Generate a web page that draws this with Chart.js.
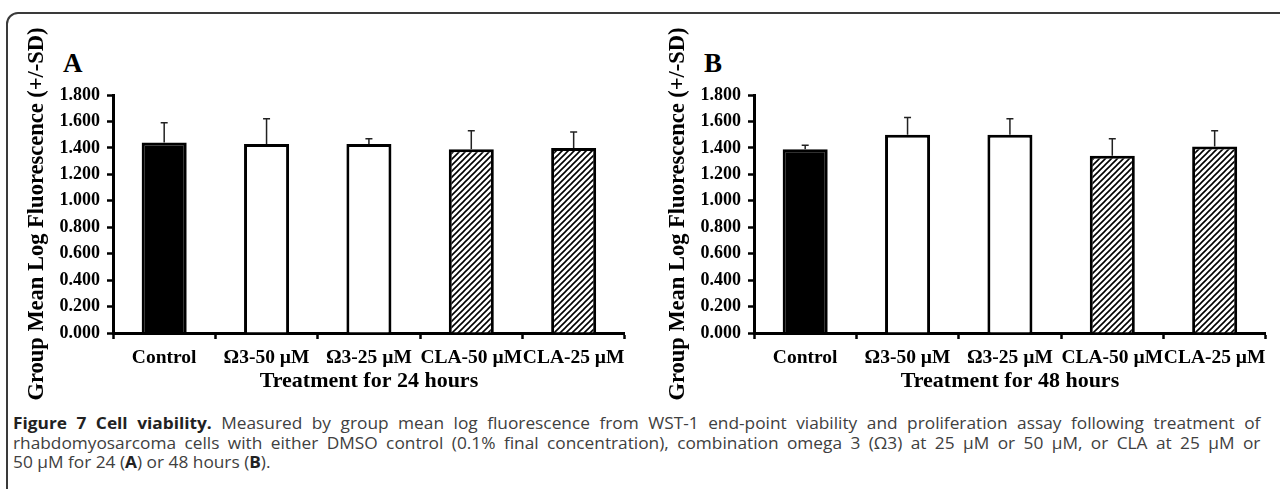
<!DOCTYPE html>
<html><head><meta charset="utf-8">
<script src="https://cdn.jsdelivr.net/npm/chart.js@4.4.1/dist/chart.umd.min.js"></script>
<style>
html,body{margin:0;padding:0;background:#fff;width:1280px;height:489px;overflow:hidden;}
body{position:relative;}
#frame{position:absolute;left:6px;top:12px;width:1320px;height:620px;border:2px solid #3a3a3a;border-radius:12px;box-sizing:border-box;}
.panel{position:absolute;top:15px;width:612px;height:385px;}
#pa{left:20px} #pb{left:661px}
.letter{position:absolute;font-family:"Liberation Serif",serif;font-weight:bold;font-size:27px;line-height:26px;top:50px;color:#000}
.cap{position:absolute;left:13px;width:1155px;font-family:"Open Sans",sans-serif;font-size:16px;color:#404040;line-height:20px;white-space:nowrap;transform:scaleX(1.08);transform-origin:0 0}
.j{text-align:justify;text-align-last:justify}
.cap b{color:#222}
</style></head>
<body>
<div id="frame"></div>
<div class="letter" style="left:63px">A</div>
<div class="letter" style="left:704px">B</div>
<div class="panel" id="pa"><canvas id="ca" width="612" height="385"></canvas></div>
<div class="panel" id="pb"><canvas id="cb" width="612" height="385"></canvas></div>
<div class="cap j" style="top:413px"><b>Figure 7 Cell viability.</b> Measured by group mean log fluorescence from WST-1 end-point viability and proliferation assay following treatment of</div>
<div class="cap j" style="top:432.5px">rhabdomyosarcoma cells with either DMSO control (0.1% final concentration), combination omega 3 (Ω3) at 25 µM or 50 µM, or CLA at 25 µM or</div>
<div class="cap" style="top:452px">50 µM for 24 (<b>A</b>) or 48 hours (<b>B</b>).</div>
<script>
const categories = ['Control', 'Ω3-50 µM', 'Ω3-25 µM', 'CLA-50 µM', 'CLA-25 µM'];
const yTickLabels = ['0.000','0.200','0.400','0.600','0.800','1.000','1.200','1.400','1.600','1.800'];
const meansA = [1.44, 1.43, 1.43, 1.39, 1.40];
const sdA    = [0.15, 0.19, 0.04, 0.14, 0.12];
const meansB = [1.39, 1.50, 1.50, 1.34, 1.41];
const sdB    = [0.03, 0.13, 0.12, 0.13, 0.12];
const yTitle = 'Group Mean Log Fluorescence (+/-SD)';
const xTitleA = 'Treatment for 24 hours';
const xTitleB = 'Treatment for 48 hours';

function hatchPattern(){
  const c = document.createElement('canvas'); c.width = 6; c.height = 6;
  const g = c.getContext('2d');
  g.fillStyle = '#fff'; g.fillRect(0,0,6,6);
  g.strokeStyle = '#000'; g.lineWidth = 1.6; g.beginPath();
  g.moveTo(-1,7); g.lineTo(7,-1);
  g.moveTo(-1,1); g.lineTo(1,-1);
  g.moveTo(5,7); g.lineTo(7,5);
  g.stroke();
  return document.createElement('canvas').getContext('2d').createPattern(c,'repeat');
}
const hatch = hatchPattern();
const fills = ['#000', '#fff', '#fff', hatch, hatch];

const errorBars = {
  id: 'errorBars',
  afterDatasetsDraw(chart){
    const ctx = chart.ctx, y = chart.scales.y;
    const ds = chart.data.datasets[0];
    const meta = chart.getDatasetMeta(0);
    ctx.save();
    ctx.strokeStyle = '#222'; ctx.lineWidth = 1.5;
    meta.data.forEach((bar, i) => {
      const y0 = y.getPixelForValue(ds.data[i]);
      const y1 = y.getPixelForValue(ds.data[i] + ds.sd[i]);
      ctx.beginPath();
      ctx.moveTo(bar.x, y0); ctx.lineTo(bar.x, y1);
      ctx.moveTo(bar.x - 3.5, y1); ctx.lineTo(bar.x + 3.5, y1);
      ctx.stroke();
    });
    ctx.restore();
  }
};

function makeChart(id, means, sd, xTitle){
  const serif = '"Liberation Serif", "Times New Roman", serif';
  return new Chart(document.getElementById(id), {
    type: 'bar',
    data: {
      labels: categories,
      datasets: [{
        data: means, sd: sd,
        backgroundColor: fills,
        borderColor: '#000', borderWidth: 3, borderSkipped: 'bottom',
        barPercentage: 0.44, categoryPercentage: 1
      }]
    },
    options: {
      responsive: false, animation: false, devicePixelRatio: 1,
      layout: { padding: { top: 80, right: 5, left: 0, bottom: 0 } },
      plugins: { legend: { display: false }, tooltip: { enabled: false } },
      scales: {
        x: {
          grid: { offset: true, drawOnChartArea: false, drawTicks: true, tickLength: 6, tickWidth: 2.5, tickColor: '#000' },
          border: { display: true, width: 3, color: '#000' },
          ticks: { color: '#000', font: { family: serif, size: 19.5, weight: 'bold' }, padding: 7, maxRotation: 0, minRotation: 0, autoSkip: false },
          title: { display: true, text: xTitle, color: '#000', font: { family: serif, size: 22, weight: 'bold' }, padding: { top: 0, bottom: 5 } },
          afterFit(s){ s.height = 67; }
        },
        y: {
          min: 0, max: 1.8,
          grid: { drawOnChartArea: false, drawTicks: true, tickLength: 6, tickWidth: 2.5, tickColor: '#000' },
          border: { display: true, width: 3, color: '#000' },
          ticks: { stepSize: 0.2, color: '#000', font: { family: serif, size: 18, weight: 'bold' }, padding: 7,
                   callback: (v, i) => yTickLabels[i] },
          title: { display: true, text: yTitle, color: '#000', font: { family: serif, size: 22.5, weight: 'bold' }, padding: { top: 4, bottom: 0 } },
          afterFit(s){ s.width = 93; }
        }
      }
    },
    plugins: [errorBars]
  });
}
makeChart('ca', meansA, sdA, xTitleA);
makeChart('cb', meansB, sdB, xTitleB);
</script>
</body></html>
